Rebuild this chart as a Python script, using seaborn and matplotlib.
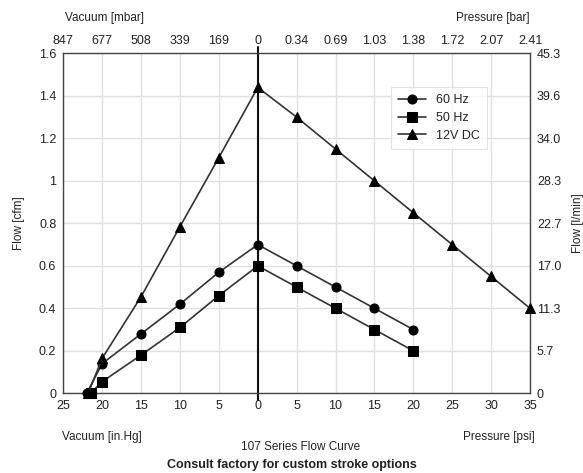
import numpy as np
import pandas as pd
import matplotlib
matplotlib.use("Agg")
import matplotlib.pyplot as plt
import seaborn as sns

# Data: x < 0 is vacuum [in.Hg] (shown as absolute values), x > 0 is pressure [psi]
x_60 = [-22, -20, -15, -10, -5, 0, 5, 10, 15, 20]
y_60 = [0.0, 0.14, 0.28, 0.42, 0.57, 0.70, 0.60, 0.50, 0.40, 0.30]
x_50 = [-21.5, -20, -15, -10, -5, 0, 5, 10, 15, 20]
y_50 = [0.0, 0.055, 0.18, 0.31, 0.46, 0.60, 0.50, 0.40, 0.30, 0.20]
x_dc = [-21.8, -20, -15, -10, -5, 0, 5, 10, 15, 20, 25, 30, 35]
y_dc = [0.0, 0.165, 0.455, 0.785, 1.11, 1.44, 1.30, 1.15, 1.00, 0.85, 0.70, 0.55, 0.40]
series_names = ["60 Hz", "50 Hz", "12V DC"]

x_ticks = [-25, -20, -15, -10, -5, 0, 5, 10, 15, 20, 25, 30, 35]
bottom_labels = ["25", "20", "15", "10", "5", "0", "5", "10", "15", "20", "25", "30", "35"]
top_labels = ["847", "677", "508", "339", "169", "0", "0.34", "0.69", "1.03", "1.38", "1.72", "2.07", "2.41"]
y_ticks = [0, 0.2, 0.4, 0.6, 0.8, 1.0, 1.2, 1.4, 1.6]
left_labels = ["0", "0.2", "0.4", "0.6", "0.8", "1", "1.2", "1.4", "1.6"]
right_labels = ["0", "5.7", "11.3", "17.0", "22.7", "28.3", "34.0", "39.6", "45.3"]

df = pd.concat([
    pd.DataFrame({"x": x_60, "y": y_60, "series": series_names[0]}),
    pd.DataFrame({"x": x_50, "y": y_50, "series": series_names[1]}),
    pd.DataFrame({"x": x_dc, "y": y_dc, "series": series_names[2]}),
], ignore_index=True)

sns.set_style("white")
plt.rcParams['font.family'] = ['Liberation Sans', 'DejaVu Sans']

fig = plt.figure(figsize=(5.83, 4.73), dpi=100)
ax = fig.add_axes([0.1086, 0.1685, 0.8005, 0.7185])

ax.set_xlim(-25, 35)
ax.set_ylim(0, 1.6)
ax.set_xticks(x_ticks)
ax.set_yticks(y_ticks)
ax.grid(True, color="#e6dede", linewidth=1.0)
ax.set_axisbelow(True)

ax.axvline(0, color="#111111", linewidth=1.5, ymin=-0.02, ymax=1.02, clip_on=False, zorder=2)

sns.lineplot(data=df, x="x", y="y", hue="series", style="series",
             hue_order=series_names, style_order=series_names,
             palette={n: "#333333" for n in series_names},
             markers={"60 Hz": "o", "50 Hz": "s", "12V DC": "^"},
             dashes=False, markersize=6.5, markeredgecolor="black",
             markerfacecolor="black", linewidth=1.2, sort=False,
             ax=ax, zorder=3, clip_on=False)

for line in ax.get_lines():
    line.set_markerfacecolor("black")
    line.set_markeredgecolor("black")

ax.set_xticklabels(bottom_labels, fontsize=9, color="#222222")
ax.set_yticklabels(left_labels, fontsize=9, color="#222222")
ax.set_xlabel("")
ax.set_ylabel("Flow [cfm]", fontsize=8.5, color="#222222", labelpad=10)
ax.tick_params(axis="both", length=0, pad=5)

for s in ax.spines.values():
    s.set_color("#444444")
    s.set_linewidth(1.0)

ax_top = ax.twiny()
ax_top.set_xlim(ax.get_xlim())
ax_top.set_xticks(x_ticks)
ax_top.set_xticklabels(top_labels, fontsize=9, color="#222222")
ax_top.tick_params(axis="x", length=0, pad=5)
for s in ax_top.spines.values():
    s.set_visible(False)

ax_r = ax.twinx()
ax_r.set_ylim(ax.get_ylim())
ax_r.set_yticks(y_ticks)
ax_r.set_yticklabels(right_labels, fontsize=9, color="#222222")
ax_r.tick_params(axis="y", length=0, pad=5)
ax_r.set_ylabel("Flow [l/min]", fontsize=8.5, color="#222222", labelpad=8)
for s in ax_r.spines.values():
    s.set_visible(False)

leg = ax.legend(loc="upper right", bbox_to_anchor=(0.922, 0.92), fontsize=9,
                frameon=True, fancybox=False, edgecolor="#dddddd",
                handlelength=2.2, borderpad=0.6, labelspacing=0.45)
leg.get_frame().set_linewidth(0.8)
leg.set_zorder(5)

fig.text(0.112, 0.962, "Vacuum [mbar]", fontsize=8.5, color="#222222", ha="left", va="center")
fig.text(0.908, 0.962, "Pressure [bar]", fontsize=8.5, color="#222222", ha="right", va="center")
fig.text(0.107, 0.077, "Vacuum [in.Hg]", fontsize=8.5, color="#222222", ha="left", va="center")
fig.text(0.918, 0.077, "Pressure [psi]", fontsize=8.5, color="#222222", ha="right", va="center")
fig.text(0.515, 0.055, "107 Series Flow Curve", fontsize=8.5, color="#222222", ha="center", va="center")
fig.text(0.50, 0.016, "Consult factory for custom stroke options", fontsize=9, fontweight="bold",
         color="#222222", ha="center", va="center")

fig.savefig("out.png", dpi=100)
